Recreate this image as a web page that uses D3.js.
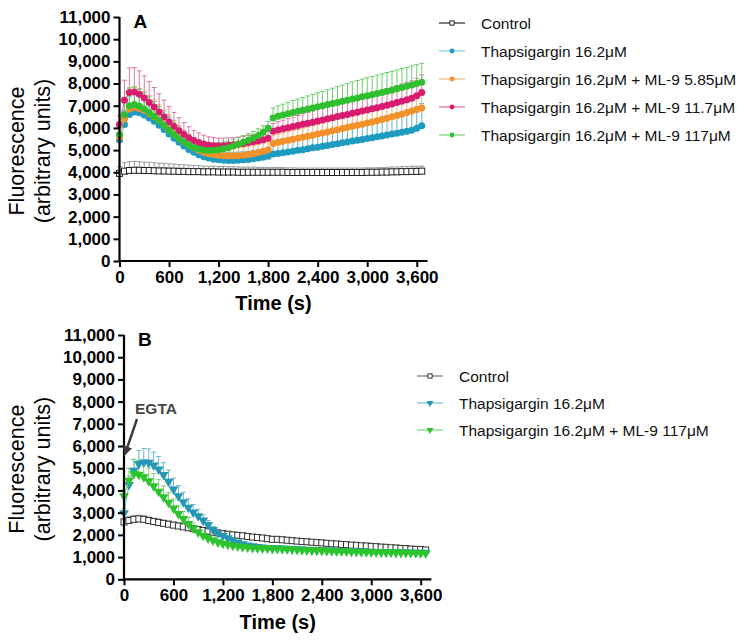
<!DOCTYPE html>
<html>
<head>
<meta charset="utf-8">
<script src="https://cdn.jsdelivr.net/npm/d3@7"></script>
<style>
  body { margin: 0; background: #fff; }
  svg { display: block; font-family: "Liberation Sans", Arial, sans-serif; }
</style>
</head>
<body>
<svg id="chart" width="745" height="641"></svg>
<script>
// time points (s): two read-outs, 0-1800 and 1860-3660
var times = [0,60,120,180,240,300,360,420,480,540,600,660,720,780,840,900,960,1020,1080,1140,1200,1260,1320,1380,1440,1500,1560,1620,1680,1740,1800,
  1860,1920,1980,2040,2100,2160,2220,2280,2340,2400,2460,2520,2580,2640,2700,2760,2820,2880,2940,3000,3060,3120,3180,3240,3300,3360,3420,3480,3540,3600,3660];
var segBreak = 31;

var yTicks = [0,1000,2000,3000,4000,5000,6000,7000,8000,9000,10000,11000];
var xTicks = [0,600,1200,1800,2400,3000,3600];

// ---- panel A ----
var ctrlA = [3950,4050,4080,4090,4090,4080,4080,4070,4060,4060,4050,4050,4040,4040,4030,4030,4030,4020,4020,4020,4010,4010,4010,4010,4000,4000,4000,4000,4000,4000,4000,
  4000,4000,4000,3990,3990,3990,3990,3990,3990,3990,3990,3990,3990,3990,3990,3990,3990,3990,3990,4000,4000,4000,4010,4010,4020,4020,4030,4030,4040,4040,4050];
var ctrlA_sd = [300,380,400,400,390,380,370,360,350,340,330,320,310,300,290,280,270,260,250,250,250,250,240,240,240,230,230,230,220,220,220,
  220,220,210,210,210,200,200,200,200,200,200,200,200,200,200,200,200,200,200,200,200,210,210,210,220,220,220,230,230,230,230];

var thapsA = [5450,6150,6600,6720,6680,6580,6450,6300,6120,5930,5730,5530,5350,5180,5030,4900,4790,4700,4640,4590,4560,4540,4530,4530,4540,4560,4580,4610,4640,4680,4720,
  4820,4850,4880,4910,4950,4990,5020,5060,5100,5130,5170,5210,5250,5290,5330,5370,5410,5440,5480,5520,5560,5600,5640,5680,5720,5760,5800,5850,5900,5980,6100];
var thapsA_sd = [300,650,800,850,850,800,760,720,680,640,600,560,530,500,470,450,430,410,400,390,380,370,370,370,370,370,370,370,370,370,370,
  400,420,440,460,480,500,520,540,560,580,600,620,640,660,680,700,720,740,760,780,800,820,840,860,880,900,920,940,960,980,1000];

var ml585A = [5600,6400,6850,6920,6880,6780,6650,6500,6320,6130,5930,5730,5550,5380,5230,5100,4990,4900,4840,4800,4770,4750,4740,4740,4750,4770,4800,4840,4890,4950,5020,
  5300,5350,5400,5440,5490,5530,5580,5620,5670,5720,5770,5820,5870,5920,5970,6020,6070,6120,6170,6220,6270,6320,6380,6440,6500,6560,6620,6690,6760,6830,6900];
var ml585A_sd = [350,750,950,950,900,850,800,760,720,680,640,600,560,520,490,460,440,420,400,390,380,370,360,360,360,360,360,360,360,360,360,
  350,360,370,380,390,400,410,420,430,440,450,460,470,480,490,500,510,520,530,540,550,560,570,580,590,600,610,620,630,640,650];

var ml117A_mid = [6150,7250,7600,7620,7520,7350,7150,6940,6720,6490,6270,6060,5870,5700,5550,5430,5340,5270,5220,5200,5190,5200,5220,5240,5270,5300,5340,5380,5420,5470,5530,
  5850,5910,5960,6010,6060,6110,6160,6210,6260,6310,6360,6410,6460,6510,6560,6610,6660,6710,6760,6810,6860,6910,6960,7020,7080,7140,7200,7270,7340,7450,7600];
var ml117A_mid_sd = [400,900,1100,1100,1050,1000,940,880,820,760,700,640,590,540,500,460,430,400,380,360,350,340,330,320,320,320,320,320,320,320,320,
  350,370,390,410,430,450,470,490,510,530,550,570,590,610,630,650,670,690,700,710,720,730,740,750,760,770,780,790,790,790,790];

var ml117A = [5700,6600,7000,7050,6980,6850,6700,6520,6320,6110,5900,5700,5520,5360,5230,5120,5050,5000,4980,4990,5020,5060,5110,5180,5260,5350,5440,5540,5660,5800,5990,
  6450,6520,6580,6640,6700,6750,6800,6850,6900,6950,7000,7050,7100,7150,7200,7250,7300,7350,7400,7450,7500,7550,7600,7650,7700,7760,7820,7880,7940,8000,8060];
var ml117A_sd = [300,700,800,780,760,730,700,670,640,610,580,550,520,490,460,430,400,370,350,330,320,310,300,300,300,300,300,300,300,300,300,
  450,470,490,510,530,550,570,590,610,630,650,670,690,710,730,750,770,790,800,810,820,830,840,850,850,850,850,850,850,850,850];

// ---- panel B ----
var ctrlB = [2580,2650,2700,2720,2700,2650,2600,2560,2520,2480,2440,2400,2360,2320,2280,2240,2200,2160,2120,2090,2060,2030,2000,1980,1960,1930,1900,1880,1860,1830,1800,
  1800,1780,1760,1740,1720,1700,1690,1670,1650,1640,1620,1600,1590,1570,1560,1540,1530,1510,1500,1480,1470,1450,1440,1420,1410,1390,1380,1360,1350,1340,1320];
var ctrlB_sd = [150,180,180,170,160,150,150,150,140,140,140,140,130,130,130,130,130,120,120,120,120,120,120,110,110,110,110,110,110,110,110,
  110,110,110,100,100,100,100,100,100,100,100,100,100,100,100,100,100,100,100,100,100,100,100,100,100,100,100,100,100,100,100];

var thapsB = [2980,4250,4900,5200,5270,5250,5130,4950,4700,4400,4050,3750,3480,3230,3020,2850,2650,2450,2230,2080,1960,1850,1750,1660,1590,1530,1490,1460,1440,1420,1400,
  1400,1390,1380,1370,1360,1350,1340,1330,1320,1310,1300,1300,1290,1280,1280,1270,1260,1260,1250,1250,1240,1240,1230,1230,1220,1220,1210,1210,1200,1200,1200];
var thapsB_sd = [200,400,500,600,620,620,600,580,550,520,500,470,440,400,350,300,250,200,150,120,100,100,100,90,90,90,90,90,90,90,90,
  90,90,90,90,90,90,90,90,90,90,90,90,90,90,90,90,90,90,90,90,90,90,90,90,90,90,90,90,90,90,90];

var ml117B = [3750,4450,4750,4720,4600,4420,4200,3950,3700,3450,3200,2950,2720,2500,2300,2120,1970,1850,1750,1670,1610,1560,1520,1490,1460,1440,1420,1410,1400,1390,1380,
  1380,1370,1360,1350,1340,1330,1320,1310,1300,1300,1290,1280,1270,1270,1260,1250,1250,1240,1240,1230,1230,1220,1220,1210,1210,1200,1200,1190,1190,1180,1180];
var ml117B_sd = [300,550,650,620,600,580,560,540,500,460,420,380,330,280,230,180,140,110,100,100,90,90,90,90,90,90,90,90,90,90,90,
  90,90,90,90,90,90,90,90,90,90,90,90,90,90,90,90,90,90,90,90,90,90,90,90,90,90,90,90,90,90,90];

var labelsA = ['Control', 'Thapsigargin 16.2\u03bcM', 'Thapsigargin 16.2\u03bcM + ML-9 5.85\u03bcM',
  'Thapsigargin 16.2\u03bcM + ML-9 11.7\u03bcM', 'Thapsigargin 16.2\u03bcM + ML-9 117\u03bcM'];
var labelsB = ['Control', 'Thapsigargin 16.2\u03bcM', 'Thapsigargin 16.2\u03bcM + ML-9 117\u03bcM'];

var svg = d3.select('#chart');
var fmt = d3.format(',');

function drawPanel(cfg) {
  var x = d3.scaleLinear().domain([0, 3730]).range([cfg.x0, cfg.x1]);
  var y = d3.scaleLinear().domain([0, 11000]).range([cfg.yb, cfg.yt]);
  var g = svg.append('g');

  // error bars first (upper side only)
  cfg.series.forEach(function (s) {
    var eb = g.append('g').attr('stroke', s.errColor).attr('stroke-width', 1).attr('fill', 'none');
    times.forEach(function (t, i) {
      var px = x(t), y0 = y(s.values[i]), y1 = y(s.values[i] + s.sd[i]);
      eb.append('line').attr('x1', px).attr('x2', px).attr('y1', y0).attr('y2', y1);
      eb.append('line').attr('x1', px - 2.5).attr('x2', px + 2.5).attr('y1', y1).attr('y2', y1);
    });
  });

  // connecting lines + markers, broken between the two read-outs
  cfg.series.forEach(function (s) {
    var line = d3.line()
      .x(function (d) { return x(d.t); })
      .y(function (d) { return y(d.v); });
    var pts = times.map(function (t, i) { return { t: t, v: s.values[i] }; });
    [pts.slice(0, segBreak), pts.slice(segBreak)].forEach(function (seg) {
      g.append('path').attr('d', line(seg)).attr('fill', 'none')
        .attr('stroke', s.lineColor).attr('stroke-width', 1);
    });
    drawMarkers(g, s, pts.map(function (p) { return [x(p.t), y(p.v)]; }));
  });

  // axes
  var yAxis = d3.axisLeft(y).tickValues(yTicks).tickFormat(fmt).tickSize(6).tickPadding(3);
  var xAxis = d3.axisBottom(x).tickValues(xTicks).tickFormat(fmt).tickSize(6).tickPadding(4);
  var ya = g.append('g').attr('transform', 'translate(' + cfg.x0 + ',0)').call(yAxis);
  var xa = g.append('g').attr('transform', 'translate(0,' + cfg.yb + ')').call(xAxis);
  [ya, xa].forEach(function (a) {
    a.select('.domain').attr('stroke', '#000').attr('stroke-width', 2.2)
      .attr('d', a === ya ? 'M0,' + (cfg.yb + 1) + 'V' + cfg.yt : 'M' + (cfg.x0 - 1) + ',0H' + cfg.x1);
    a.selectAll('.tick line').attr('stroke', '#000').attr('stroke-width', 2);
    a.selectAll('.tick text').attr('fill', '#000').attr('font-size', 17).attr('font-weight', 'bold')
      .attr('font-family', '"Liberation Sans", Arial, sans-serif');
  });

  // axis titles
  var yc = (cfg.yb + cfg.yt) / 2 + 12;
  g.append('text').attr('transform', 'translate(' + (cfg.titleX) + ',' + yc + ') rotate(-90)')
    .attr('text-anchor', 'middle').attr('font-size', 21.5).text('Fluorescence');
  g.append('text').attr('transform', 'translate(' + (cfg.titleX + 26) + ',' + yc + ') rotate(-90)')
    .attr('text-anchor', 'middle').attr('font-size', 21.5).text('(arbitrary units)');
  g.append('text').attr('x', (cfg.x0 + cfg.x1) / 2).attr('y', cfg.yb + cfg.timeDy)
    .attr('text-anchor', 'middle').attr('font-size', 20).attr('font-weight', 'bold').text('Time (s)');
  g.append('text').attr('x', cfg.x0 + 14).attr('y', cfg.yt + 11)
    .attr('font-size', 19).attr('font-weight', 'bold').text(cfg.letter);

  // legend
  var lg = g.append('g');
  cfg.series.forEach(function (s, i) {
    var ry = cfg.legY + i * cfg.legStep;
    lg.append('line').attr('x1', cfg.legX - 13).attr('x2', cfg.legX + 13)
      .attr('y1', ry).attr('y2', ry).attr('stroke', s.lineColor).attr('stroke-width', 1.2);
    drawMarkers(lg, s, [[cfg.legX, ry]], 0.7);
    lg.append('text').attr('x', cfg.legX + 29).attr('y', ry + 5.5)
      .attr('font-size', 15.5).attr('fill', '#111').text(cfg.labels[i]);
  });
  return { x: x, y: y, g: g };
}

function drawMarkers(g, s, coords, k) {
  k = k || 1;
  coords.forEach(function (c) {
    if (s.shape === 'square') {
      var h = 3 * k;
      g.append('rect').attr('x', c[0] - h).attr('y', c[1] - h).attr('width', 2 * h).attr('height', 2 * h)
        .attr('fill', '#fff').attr('stroke', s.color).attr('stroke-width', 1);
    } else if (s.shape === 'tri') {
      g.append('path').attr('d', d3.symbol().type(d3.symbolTriangle).size(42 * k * k)())
        .attr('transform', 'translate(' + c[0] + ',' + c[1] + ') rotate(180)')
        .attr('fill', s.color);
    } else {
      g.append('circle').attr('cx', c[0]).attr('cy', c[1]).attr('r', 3.5 * k).attr('fill', s.color);
    }
  });
}

drawPanel({
  letter: 'A', x0: 119.5, x1: 427.5, yb: 261, yt: 17, titleX: 24, timeDy: 49,
  legX: 452, legY: 23, legStep: 28, labels: labelsA,
  series: [
    { values: ctrlA, sd: ctrlA_sd, color: '#222', lineColor: '#222', errColor: '#9a9a9a', shape: 'square' },
    { values: thapsA, sd: thapsA_sd, color: '#1e9bc1', lineColor: '#7cc4da', errColor: '#5fb4cf', shape: 'circle' },
    { values: ml585A, sd: ml585A_sd, color: '#f3912b', lineColor: '#f3b67a', errColor: '#f5b171', shape: 'circle' },
    { values: ml117A_mid, sd: ml117A_mid_sd, color: '#d81c70', lineColor: '#e0679c', errColor: '#de78a6', shape: 'circle' },
    { values: ml117A, sd: ml117A_sd, color: '#2fbf2f', lineColor: '#7bd67b', errColor: '#6ccb6c', shape: 'circle' }
  ]
});

drawPanel({
  letter: 'B', x0: 124, x1: 431.4, yb: 579.3, yt: 335, titleX: 24, timeDy: 50,
  legX: 430, legY: 376, legStep: 27, labels: labelsB,
  series: [
    { values: ctrlB, sd: ctrlB_sd, color: '#333', lineColor: '#777', errColor: '#a0a0a0', shape: 'square' },
    { values: thapsB, sd: thapsB_sd, color: '#2597b5', lineColor: '#72bccf', errColor: '#6cb7cc', shape: 'tri' },
    { values: ml117B, sd: ml117B_sd, color: '#2cc42c', lineColor: '#7ad87a', errColor: '#7bd17b', shape: 'tri' }
  ]
});

// EGTA annotation in panel B
svg.append('defs').append('marker').attr('id', 'arrow').attr('viewBox', '0 0 10 10')
  .attr('refX', 8).attr('refY', 5).attr('markerWidth', 4).attr('markerHeight', 4).attr('orient', 'auto')
  .append('path').attr('d', 'M0,0L10,5L0,10z').attr('fill', '#3a3a3a');
svg.append('line').attr('x1', 137).attr('y1', 419).attr('x2', 125).attr('y2', 454)
  .attr('stroke', '#3a3a3a').attr('stroke-width', 2.4).attr('marker-end', 'url(#arrow)');
svg.append('text').attr('x', 135).attr('y', 414).attr('font-size', 15.5).attr('font-weight', 'bold')
  .attr('fill', '#444').text('EGTA');
</script>
</body>
</html>
